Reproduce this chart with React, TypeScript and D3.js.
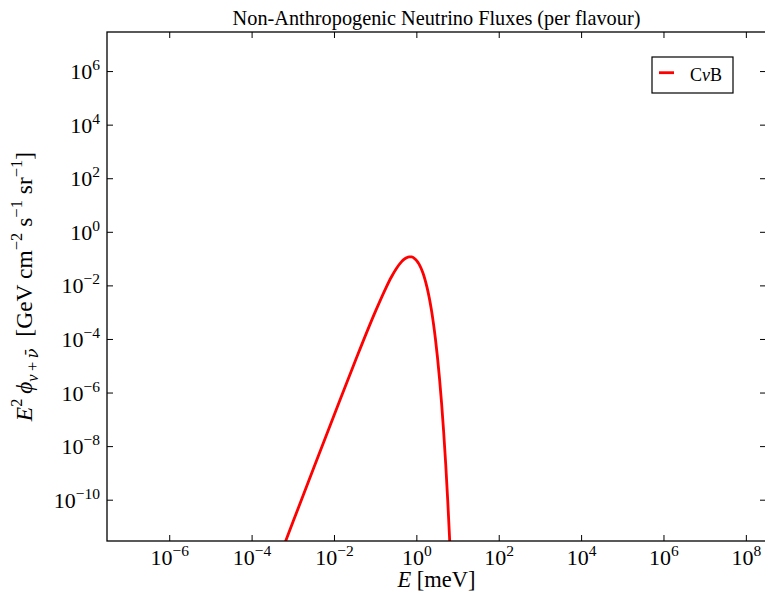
import React from "react";
import * as d3 from "d3";

// Data (E in meV, E^2 phi in GeV cm^-2 s^-1 sr^-1)
const energy = [
  6.31e-4, 1.0e-3, 3.16e-3, 1.0e-2, 3.16e-2, 0.1, 0.178, 0.237, 0.316, 0.422, 0.487,
  0.562, 0.649, 0.75, 0.866, 1.0, 1.122, 1.259, 1.413, 1.585, 1.778, 1.995, 2.239,
  2.512, 2.818, 3.162, 3.548, 3.981, 4.467, 5.012, 5.623, 6.31,
];
const flux = [
  2.6e-12, 1.66e-11, 1.66e-9, 1.62e-7, 1.51e-5, 1.17e-3, 8.5e-3, 2.06e-2, 4.4e-2, 7.9e-2, 9.8e-2,
  0.113, 0.1215, 0.12, 0.1074, 8.63e-2, 6.64e-2, 4.65e-2, 2.95e-2, 1.68e-2, 8.4e-3, 3.67e-3, 1.36e-3,
  4.25e-4, 1.09e-4, 2.22e-5, 3.55e-6, 4.27e-7, 3.75e-8, 2.34e-9, 9.7e-11, 2.57e-12,
];
const xTickExps = [-6, -4, -2, 0, 2, 4, 6, 8];
const yTickExps = [-10, -8, -6, -4, -2, 0, 2, 4, 6];
const xDomain = [3e-8, 3e8];
const yDomain = [3e-12, 3e7];
const titleText = "Non-Anthropogenic Neutrino Fluxes (per flavour)";

const W = 765;
const H = 596;
const L = 107;
const R = 766;
const T = 32;
const B = 541;
const FONT = "'Liberation Serif', 'DejaVu Serif', serif";
const TICK = 6;

function expText(e: number) {
  return e < 0 ? "\u2212" + Math.abs(e) : String(e);
}

export default function App() {
  const x = d3.scaleLog().domain(xDomain).range([L, R]);
  const y = d3.scaleLog().domain(yDomain).range([B, T]);
  const pts: [number, number][] = energy.map((e, i) => [e, flux[i]]);
  const line = d3
    .line<[number, number]>()
    .x((d) => x(d[0]))
    .y((d) => y(d[1]))
    .curve(d3.curveMonotoneX);

  const ys = 16.5;
  return (
    <svg
      width={W}
      height={H}
      style={{ position: "absolute", left: 0, top: 0, background: "#fff" }}
      fontFamily={FONT}
    >
      <defs>
        <clipPath id="plotclip">
          <rect x={L} y={T} width={R - L} height={B - T} />
        </clipPath>
      </defs>
      <rect x={0} y={0} width={W} height={H} fill="#fff" />
      <path
        d={line(pts) || ""}
        fill="none"
        stroke="#ff0000"
        strokeWidth={2.8}
        clipPath="url(#plotclip)"
        strokeLinejoin="round"
      />
      {/* spines */}
      <rect x={L} y={T} width={R - L} height={B - T} fill="none" stroke="#000" strokeWidth={1.3} />
      {/* x ticks */}
      {xTickExps.map((e) => {
        const px = x(Math.pow(10, e));
        return (
          <g key={"xt" + e}>
            <line x1={px} x2={px} y1={B} y2={B - TICK} stroke="#000" strokeWidth={1} />
            <line x1={px} x2={px} y1={T} y2={T + TICK} stroke="#000" strokeWidth={1} />
            <text x={px} y={565} textAnchor="middle" fontSize={22} fill="#000">
              10
              <tspan dy={-9} fontSize={15.5}>
                {expText(e)}
              </tspan>
            </text>
          </g>
        );
      })}
      {/* y ticks */}
      {yTickExps.map((e) => {
        const py = y(Math.pow(10, e));
        return (
          <g key={"yt" + e}>
            <line x1={L} x2={L + TICK} y1={py} y2={py} stroke="#000" strokeWidth={1} />
            <line x1={R} x2={R - TICK} y1={py} y2={py} stroke="#000" strokeWidth={1} />
            <text x={100} y={py + 7.5} textAnchor="end" fontSize={22} fill="#000">
              10
              <tspan dy={-9} fontSize={15.5}>
                {expText(e)}
              </tspan>
            </text>
          </g>
        );
      })}
      {/* title */}
      <text x={(L + R) / 2} y={25} textAnchor="middle" fontSize={20.3} fill="#000">
        {titleText}
      </text>
      {/* x label */}
      <text x={(L + R) / 2} y={587} textAnchor="middle" fontSize={22.5} fill="#000">
        <tspan fontStyle="italic">E</tspan>
        <tspan> [meV]</tspan>
      </text>
      {/* y label */}
      <text
        transform={`translate(32, ${(T + B) / 2}) rotate(-90)`}
        textAnchor="middle"
        fontSize={23.5}
        fill="#000"
      >
        <tspan fontStyle="italic">E</tspan>
        <tspan dy={-10} fontSize={ys}>2</tspan>
        <tspan dy={10} fontStyle="italic">{"\u2009\u03D5"}</tspan>
        <tspan dy={6} fontSize={ys} fontStyle="italic">ν</tspan>
        <tspan fontSize={ys}>{"\u2009+\u2009"}</tspan>
        <tspan fontSize={ys} fontStyle="italic" fontFamily="'DejaVu Serif', serif">{"\u03BD\u0304"}</tspan>
        <tspan dy={-6}>{"\u2002[GeV cm"}</tspan>
        <tspan dy={-10} fontSize={ys}>{"\u22122"}</tspan>
        <tspan dy={10}> s</tspan>
        <tspan dy={-10} fontSize={ys}>{"\u22121"}</tspan>
        <tspan dy={10}> sr</tspan>
        <tspan dy={-10} fontSize={ys}>{"\u22121"}</tspan>
        <tspan dy={10}>]</tspan>
      </text>
      {/* legend */}
      <rect x={652} y={57} width={81} height={36} fill="#fff" stroke="#000" strokeWidth={1.2} />
      <line x1={659} x2={674} y1={72.7} y2={72.7} stroke="#ff0000" strokeWidth={2.8} />
      <text x={690} y={81} fontSize={18} fill="#000">
        <tspan>C</tspan>
        <tspan fontStyle="italic">ν</tspan>
        <tspan>B</tspan>
      </text>
    </svg>
  );
}
